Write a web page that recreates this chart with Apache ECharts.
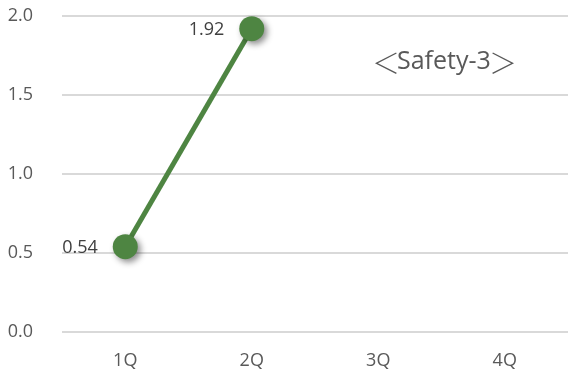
<!DOCTYPE html>
<html>
<head>
<meta charset="utf-8">
<script src="https://cdn.jsdelivr.net/npm/echarts@6/dist/echarts.min.js"></script>
<style>
  html, body { margin: 0; padding: 0; background: #fff; }
  #show_picture { width: 568px; height: 377px; }
</style>
</head>
<body>
<div id="show_picture"></div>
<script>
    // data
    const quarters = ['1Q', '2Q', '3Q', '4Q'];
    const safety3 = [0.54, 1.92, null, null];
    const chartLabel = 'Safety-3';

    let myChart = echarts.init(document.getElementById('show_picture'));
    const bracketStyle = { fontFamily: 'Noto Sans CJK JP', fontSize: 28, fontWeight: 300, fill: '#595959', verticalAlign: 'middle' };
    let option = {
        animation: false,
        textStyle: { fontFamily: 'Open Sans' },
        graphic: [
            { type: 'text', x: 372, y: 63, style: Object.assign({ text: '＜' }, bracketStyle) },
            {
                type: 'text', x: 397, y: 62,
                style: { text: chartLabel, fontFamily: 'Open Sans', fontSize: 25, fill: '#595959', verticalAlign: 'middle' }
            },
            { type: 'text', x: 489, y: 63, style: Object.assign({ text: '＞' }, bracketStyle) }
        ],
        grid: { left: 62, right: 0, top: 16, bottom: 45 },
        xAxis: {
            type: 'category',
            data: quarters,
            boundaryGap: true,
            axisLine: { show: false },
            axisTick: { show: false },
            axisLabel: { color: '#595959', fontSize: 18, margin: 20 }
        },
        yAxis: {
            type: 'value',
            min: 0,
            max: 2,
            interval: 0.5,
            axisLabel: {
                color: '#595959', fontSize: 18, margin: 29,
                formatter: v => v.toFixed(1)
            },
            splitLine: { lineStyle: { color: '#d9d9d9', width: 2 } }
        },
        series: [
            {
                type: 'line',
                data: safety3,
                symbol: 'circle',
                symbolSize: 25,
                lineStyle: { color: '#4e8542', width: 5 },
                itemStyle: {
                    color: '#4e8542',
                    shadowColor: 'rgba(0,0,0,0.45)',
                    shadowBlur: 6,
                    shadowOffsetX: 3,
                    shadowOffsetY: 3
                },
                label: {
                    show: true,
                    position: 'left',
                    distance: 15,
                    offset: [0, 1],
                    color: '#404040',
                    fontSize: 18,
                    formatter: p => p.value.toFixed(2)
                }
            }
        ]
    };

    option && myChart.setOption(option);
</script>
</body>
</html>
